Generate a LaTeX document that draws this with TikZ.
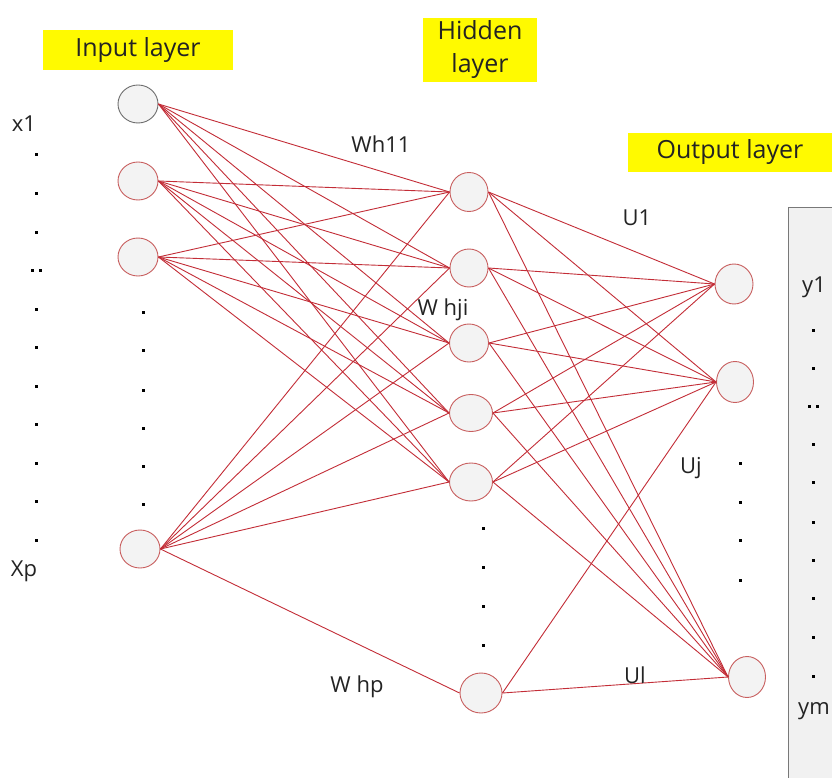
\documentclass[tikz,border=0pt]{standalone}
\usepackage{fontspec}
\setmainfont{Open Sans}
\usetikzlibrary{shapes.geometric}
\definecolor{wire}{RGB}{195,45,55}
\definecolor{ring}{RGB}{200,95,95}
\definecolor{greyring}{RGB}{110,110,110}
\definecolor{nodefill}{RGB}{243,243,243}
\definecolor{hl}{RGB}{255,250,0}
\definecolor{panel}{RGB}{241,241,241}
\definecolor{panelline}{RGB}{120,120,120}
\definecolor{ink}{RGB}{35,35,35}
\begin{document}
\begin{tikzpicture}[x=1pt,y=-1pt,
  neuron/.style={ellipse, draw=ring, fill=nodefill, line width=0.9pt,
    minimum width=40pt, minimum height=38pt, inner sep=0pt},
  link/.style={draw=wire, line width=0.9pt},
  tag/.style={font=\fontsize{22}{24}\selectfont, text=ink, inner sep=0pt},
  banner/.style={fill=hl, font=\fontsize{25}{33}\selectfont, text=ink, inner sep=0pt, align=center},
  pt/.style={rectangle, fill=black, minimum size=3pt, inner sep=0pt}]
\useasboundingbox (0,0) rectangle (832,778);
\fill[white] (0,0) rectangle (832,778);

% output panel on the right
\begin{scope}
  \clip (0,0) rectangle (832,778);
  \draw[draw=panelline, fill=panel, line width=1pt] (788,207) rectangle (860,800);
\end{scope}

% layer titles
\node[banner, minimum width=190pt, minimum height=40pt] (tin) at (138,50) {Input layer};
\node[banner, minimum width=114pt, minimum height=64pt] (thid) at (480,50) {Hidden\\layer};
\node[banner, minimum width=204pt, minimum height=39pt] (tout) at (730,152.5) {Output layer};

% input neurons
\node[neuron, draw=greyring] (i1) at (138,104) {};
\node[neuron] (i2) at (138,181) {};
\node[neuron] (i3) at (138,257) {};
\node[neuron] (ip) at (140,549) {};

% hidden neurons
\node[neuron, minimum width=38pt, minimum height=39pt] (h1) at (469,192) {};
\node[neuron, minimum width=38pt] (h2) at (469,268) {};
\node[neuron, minimum width=39pt] (h3) at (469,343) {};
\node[neuron, minimum width=43pt, minimum height=37pt] (h4) at (471,413) {};
\node[neuron, minimum width=43pt, minimum height=38pt] (h5) at (471,482) {};
\node[neuron, minimum width=42pt, minimum height=40pt] (h6) at (481,693) {};

% output neurons
\node[neuron, minimum width=38pt, minimum height=40pt] (o1) at (734,284) {};
\node[neuron, minimum width=37pt, minimum height=41pt] (o2) at (735,382) {};
\node[neuron, minimum width=37pt, minimum height=41pt] (o3) at (747,677) {};

% input -> hidden weights
\foreach \i in {i1,i2,i3,ip}
  \foreach \h in {h1,h2,h3,h4,h5}
    \draw[link] (\i.east) -- (\h.west);
\draw[link] (ip.east) -- (h6.west);

% hidden -> output weights
\foreach \h in {h1,h2,h3,h4,h5}
  \foreach \o in {o1,o2,o3}
    \draw[link] (\h.east) -- (\o.west);
\draw[link] (h6.east) -- (o2.west);
\draw[link] (h6.east) -- (o3.west);

% weight labels
\node[tag] (w11) at (381,144) {Wh11};
\node[tag] (wji) at (443,310) {W hji};
\node[tag] (whp) at (357,687) {W hp};
\node[tag] (u1) at (637,218) {U1};
\node[tag] (uj) at (691,468) {Uj};
\node[tag] (ul) at (635,675) {Ul};

% input variable column
\node[tag] (x1) at (24,124) {x1};
\node[tag] (xp) at (24,571) {Xp};
\foreach \y [count=\k] in {155,193.5,232,309,347.5,386,424.5,463,501.5,540}
  \node[pt] (ld\k) at (36,\y) {};
\node[pt] (lda) at (32,270.5) {};
\node[pt] (ldb) at (40,270.5) {};

% dots under the input neurons
\foreach \y [count=\k] in {312,350,390,428,466,504}
  \node[pt] (md\k) at (143,\y) {};

% dots under the hidden neurons
\foreach \y [count=\k] in {528,567,606,645}
  \node[pt] (hd\k) at (483,\y) {};

% dots between the output neurons
\foreach \y [count=\k] in {463,502,540,580}
  \node[pt] (od\k) at (740,\y) {};

% output variable column
\node[tag] (y1) at (814,287) {y1};
\node[tag] (ym) at (814,711) {ym};
\foreach \y [count=\k] in {330,368,444,482,522,560,598,637,676}
  \node[pt] (rd\k) at (813,\y) {};
\node[pt] (rda) at (809,406) {};
\node[pt] (rdb) at (817,406) {};
\end{tikzpicture}
\end{document}
